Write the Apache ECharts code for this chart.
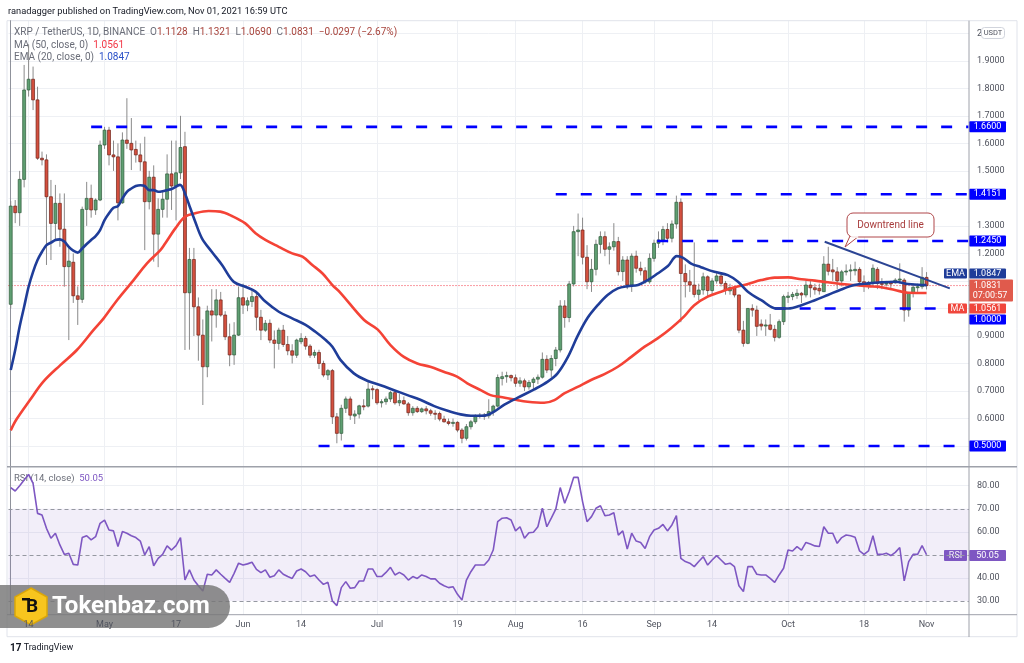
<!DOCTYPE html>
<html>
<head>
<meta charset="utf-8">
<script src="https://cdn.jsdelivr.net/npm/echarts@6/dist/echarts.min.js"></script>
<style>
  html, body { margin: 0; padding: 0; background: #fff; }
  #main { width: 1024px; height: 663px; }
</style>
</head>
<body>
<div id="main"></div>
<script>
// XRP / USDT daily, 2021-04-10 .. 2021-11-01 (day index 0 = Apr 10)
const open = [
  1.015, 1.372, 1.348, 1.469, 1.794, 1.833, 1.758, 1.546, 1.540, 1.406,
  1.309, 1.382, 1.288, 1.152, 1.168, 1.046, 1.033, 1.360, 1.400, 1.358,
  1.394, 1.594, 1.648, 1.558, 1.551, 1.384, 1.612, 1.600, 1.578, 1.558,
  1.533, 1.388, 1.477, 1.270, 1.360, 1.397, 1.489, 1.445, 1.493, 1.588,
  1.057, 1.178, 1.006, 0.903, 0.788, 0.991, 0.976, 1.031, 0.976, 0.897,
  0.831, 0.903, 1.039, 1.012, 1.025, 1.043, 0.968, 0.921, 0.946, 0.885,
  0.873, 0.921, 0.869, 0.846, 0.830, 0.879, 0.891, 0.863, 0.830, 0.840,
  0.800, 0.758, 0.774, 0.606, 0.546, 0.637, 0.671, 0.609, 0.616, 0.646,
  0.645, 0.708, 0.705, 0.657, 0.661, 0.671, 0.694, 0.657, 0.665, 0.653,
  0.621, 0.637, 0.625, 0.635, 0.628, 0.619, 0.618, 0.598, 0.588, 0.582,
  0.586, 0.558, 0.528, 0.570, 0.588, 0.610, 0.612, 0.610, 0.625, 0.645,
  0.745, 0.752, 0.756, 0.748, 0.728, 0.737, 0.715, 0.731, 0.743, 0.750,
  0.815, 0.776, 0.818, 0.849, 1.009, 0.967, 1.089, 1.279, 1.285, 1.186,
  1.097, 1.142, 1.233, 1.261, 1.215, 1.224, 1.243, 1.134, 1.176, 1.085,
  1.190, 1.146, 1.137, 1.097, 1.182, 1.237, 1.249, 1.287, 1.255, 1.307,
  1.386, 1.127, 1.097, 1.085, 1.051, 1.067, 1.115, 1.065, 1.100, 1.118,
  1.091, 1.064, 1.076, 1.049, 0.921, 0.873, 1.000, 0.994, 0.943, 0.936,
  0.940, 0.924, 0.895, 0.952, 1.040, 1.043, 1.047, 1.055, 1.049, 1.085,
  1.075, 1.073, 1.061, 1.161, 1.140, 1.133, 1.100, 1.133, 1.136, 1.137,
  1.142, 1.097, 1.085, 1.093, 1.142, 1.091, 1.089, 1.097, 1.093, 1.103,
  1.103, 0.994, 1.055, 1.077, 1.079, 1.1128
];
const high = [
  1.390, 1.394, 1.500, 1.885, 1.960, 1.879, 1.806, 1.570, 1.560, 1.467,
  1.449, 1.418, 1.418, 1.224, 1.200, 1.080, 1.370, 1.460, 1.450, 1.400,
  1.610, 1.660, 1.660, 1.610, 1.600, 1.640, 1.764, 1.692, 1.610, 1.600,
  1.624, 1.500, 1.520, 1.400, 1.430, 1.560, 1.610, 1.610, 1.700, 1.642,
  1.220, 1.220, 1.040, 0.960, 1.010, 1.070, 1.070, 1.060, 0.990, 0.945,
  0.950, 1.080, 1.090, 1.040, 1.070, 1.060, 0.995, 0.958, 0.960, 0.920,
  0.930, 0.940, 0.900, 0.870, 0.890, 0.910, 0.900, 0.870, 0.850, 0.850,
  0.810, 0.780, 0.780, 0.620, 0.650, 0.680, 0.680, 0.630, 0.650, 0.670,
  0.734, 0.720, 0.710, 0.670, 0.680, 0.700, 0.700, 0.690, 0.680, 0.660,
  0.645, 0.645, 0.640, 0.645, 0.635, 0.630, 0.625, 0.610, 0.600, 0.600,
  0.590, 0.565, 0.580, 0.595, 0.615, 0.620, 0.620, 0.670, 0.650, 0.760,
  0.770, 0.770, 0.760, 0.760, 0.750, 0.745, 0.740, 0.750, 0.760, 0.840,
  0.830, 0.830, 0.860, 1.030, 1.030, 1.100, 1.300, 1.345, 1.330, 1.230,
  1.180, 1.250, 1.280, 1.280, 1.240, 1.310, 1.260, 1.190, 1.190, 1.200,
  1.210, 1.170, 1.150, 1.200, 1.250, 1.280, 1.300, 1.310, 1.320, 1.410,
  1.400, 1.160, 1.140, 1.240, 1.090, 1.130, 1.120, 1.110, 1.130, 1.130,
  1.100, 1.090, 1.080, 1.050, 0.955, 1.000, 1.015, 1.010, 0.960, 0.960,
  0.980, 0.940, 0.960, 1.050, 1.060, 1.060, 1.070, 1.060, 1.100, 1.100,
  1.090, 1.090, 1.190, 1.224, 1.180, 1.150, 1.140, 1.160, 1.160, 1.170,
  1.150, 1.120, 1.100, 1.160, 1.150, 1.110, 1.100, 1.100, 1.110, 1.164,
  1.110, 1.060, 1.090, 1.090, 1.150, 1.1321
];
const low = [
  1.000, 1.310, 1.300, 1.440, 1.770, 1.721, 1.540, 1.520, 1.158, 1.176,
  1.249, 1.224, 1.079, 0.885, 1.020, 0.940, 1.020, 1.300, 1.330, 1.340,
  1.390, 1.580, 1.520, 1.500, 1.320, 1.380, 1.580, 1.503, 1.530, 1.500,
  1.212, 1.360, 1.170, 1.150, 1.330, 1.330, 1.358, 1.320, 1.470, 0.849,
  0.850, 0.900, 0.810, 0.649, 0.750, 0.880, 0.930, 0.970, 0.885, 0.790,
  0.795, 0.900, 0.980, 0.990, 1.005, 0.920, 0.885, 0.915, 0.874, 0.782,
  0.850, 0.860, 0.830, 0.800, 0.820, 0.870, 0.850, 0.820, 0.820, 0.780,
  0.750, 0.740, 0.580, 0.510, 0.520, 0.620, 0.595, 0.580, 0.600, 0.630,
  0.640, 0.670, 0.650, 0.640, 0.650, 0.660, 0.650, 0.645, 0.650, 0.610,
  0.610, 0.620, 0.620, 0.615, 0.610, 0.595, 0.590, 0.585, 0.575, 0.570,
  0.550, 0.510, 0.520, 0.560, 0.580, 0.600, 0.595, 0.600, 0.610, 0.640,
  0.720, 0.730, 0.735, 0.715, 0.715, 0.700, 0.705, 0.700, 0.725, 0.745,
  0.765, 0.750, 0.790, 0.840, 0.930, 0.950, 1.080, 1.190, 1.160, 1.070,
  1.060, 1.120, 1.200, 1.190, 1.160, 1.210, 1.120, 1.100, 1.070, 1.060,
  1.130, 1.120, 1.090, 1.090, 1.170, 1.220, 1.230, 1.240, 1.240, 1.290,
  0.950, 1.040, 1.060, 1.040, 1.030, 1.050, 1.040, 1.050, 1.090, 1.080,
  1.050, 1.050, 1.040, 0.910, 0.861, 0.870, 0.970, 0.900, 0.920, 0.900,
  0.920, 0.880, 0.890, 0.940, 1.020, 1.030, 1.035, 1.020, 1.040, 1.040,
  1.050, 1.050, 1.060, 1.120, 1.100, 1.070, 1.080, 1.120, 1.100, 1.120,
  1.080, 1.060, 1.070, 1.080, 1.070, 1.070, 1.080, 1.070, 1.090, 1.090,
  0.952, 0.970, 1.040, 1.060, 1.070, 1.069
];
const close = [
  1.372, 1.348, 1.469, 1.794, 1.833, 1.758, 1.546, 1.540, 1.406, 1.309,
  1.382, 1.288, 1.152, 1.172, 1.046, 1.033, 1.360, 1.400, 1.358, 1.394,
  1.594, 1.648, 1.558, 1.551, 1.384, 1.612, 1.600, 1.576, 1.558, 1.533,
  1.388, 1.477, 1.270, 1.360, 1.397, 1.489, 1.445, 1.493, 1.585, 1.057,
  1.178, 1.006, 0.903, 0.788, 0.991, 0.976, 1.031, 0.976, 0.897, 0.831,
  0.903, 1.039, 1.012, 1.028, 1.043, 0.968, 0.921, 0.946, 0.885, 0.873,
  0.921, 0.869, 0.846, 0.830, 0.885, 0.891, 0.863, 0.830, 0.840, 0.800,
  0.758, 0.774, 0.606, 0.546, 0.637, 0.671, 0.612, 0.616, 0.646, 0.645,
  0.707, 0.705, 0.657, 0.661, 0.671, 0.694, 0.657, 0.665, 0.653, 0.621,
  0.637, 0.625, 0.635, 0.628, 0.619, 0.618, 0.598, 0.588, 0.582, 0.586,
  0.558, 0.528, 0.570, 0.588, 0.610, 0.612, 0.610, 0.625, 0.645, 0.749,
  0.752, 0.756, 0.748, 0.728, 0.737, 0.715, 0.731, 0.743, 0.750, 0.815,
  0.776, 0.818, 0.849, 1.009, 0.967, 1.089, 1.279, 1.285, 1.186, 1.097,
  1.142, 1.233, 1.261, 1.215, 1.224, 1.243, 1.134, 1.176, 1.085, 1.190,
  1.146, 1.137, 1.097, 1.182, 1.237, 1.249, 1.287, 1.255, 1.307, 1.386,
  1.127, 1.097, 1.085, 1.051, 1.067, 1.115, 1.065, 1.100, 1.118, 1.091,
  1.067, 1.076, 1.049, 0.921, 0.873, 1.000, 0.994, 0.935, 0.936, 0.940,
  0.924, 0.895, 0.952, 1.043, 1.045, 1.051, 1.055, 1.049, 1.085, 1.075,
  1.068, 1.064, 1.161, 1.135, 1.133, 1.100, 1.133, 1.136, 1.140, 1.142,
  1.097, 1.085, 1.093, 1.146, 1.091, 1.089, 1.092, 1.089, 1.103, 1.107,
  0.994, 1.055, 1.077, 1.079, 1.1128, 1.0831
];

// EMA 20 and MA 50 as [day, value]
const emaPoints = [
  [0,0.776],[1,0.849],[2,0.934],[3,1.006],[4,1.079],[5,1.133],[6,1.176],[7,1.206],[8,1.230],[9,1.239],
  [10,1.249],[11,1.251],[12,1.243],[13,1.224],[14,1.210],[15,1.203],[16,1.218],[17,1.234],[18,1.249],[19,1.263],
  [20,1.285],[21,1.321],[22,1.346],[23,1.366],[24,1.372],[25,1.400],[26,1.424],[27,1.436],[28,1.445],[29,1.448],
  [30,1.445],[31,1.430],[32,1.430],[33,1.424],[34,1.426],[35,1.430],[36,1.434],[37.9,1.449],[39,1.418],[40.2,1.364],
  [41.3,1.315],[42.8,1.255],[45,1.206],[47.3,1.158],[49.9,1.097],[52.5,1.079],[54.8,1.061],[57,1.025],[60,0.988],[63,0.964],
  [66,0.940],[68.2,0.915],[70.5,0.885],[72,0.861],[73.8,0.813],[76.8,0.764],[79.8,0.737],[82.8,0.721],[85.8,0.703],[88.8,0.685],
  [91.8,0.667],[94.8,0.645],[97.8,0.628],[100.7,0.615],[103,0.610],[105.2,0.610],[106.7,0.613],[108.2,0.625],[110.5,0.650],[113.4,0.675],
  [117.2,0.706],[120.2,0.734],[122.4,0.764],[124.6,0.820],[126.9,0.900],[129.1,0.965],[131.4,1.012],[133.6,1.049],[135.9,1.073],[138.1,1.081],
  [140.4,1.085],[142.6,1.103],[144.8,1.127],[147.1,1.154],[149.1,1.190],[150.4,1.185],[152.3,1.163],[154.5,1.150],[157.5,1.133],[160.5,1.121],
  [162.8,1.097],[165,1.061],[168,1.030],[171.4,1.000],[174,1.000],[177,1.012],[180,1.030],[182.9,1.049],[185.9,1.069],[188.9,1.085],
  [191.9,1.091],[194.9,1.095],[197.9,1.097],[200.9,1.089],[204,1.085],[205,1.0847]
];
const maPoints = [
  [0,0.557],[1.3,0.597],[4.3,0.667],[7.3,0.734],[11.1,0.794],[14.8,0.849],[18.5,0.921],[20.8,0.964],[23.8,1.030],[27.5,1.103],
  [30.5,1.164],[33.5,1.212],[34.6,1.237],[36.8,1.290],[39,1.333],[41.3,1.346],[44.3,1.354],[46.9,1.352],[49.5,1.336],[52.5,1.309],
  [54.8,1.273],[57,1.249],[60,1.224],[63,1.200],[65.3,1.188],[67.5,1.158],[69.8,1.127],[72,1.085],[73.8,1.057],[79.1,0.958],
  [82.1,0.924],[85,0.867],[88,0.824],[91,0.800],[93.9,0.788],[96.9,0.770],[99.9,0.752],[102.2,0.728],[105.2,0.703],[107.4,0.685],
  [109.7,0.678],[112.7,0.669],[115.7,0.661],[119.4,0.657],[121.7,0.667],[123.9,0.691],[126.9,0.715],[129.9,0.740],[132.9,0.761],[135.9,0.788],
  [138.9,0.824],[141.9,0.861],[144.8,0.891],[147.8,0.928],[150.8,0.972],[153,1.012],[156,1.043],[159,1.061],[162,1.077],[165,1.089],
  [168,1.103],[171,1.112],[174,1.113],[177,1.106],[180,1.101],[182.9,1.095],[185.9,1.089],[188.9,1.085],[191.9,1.081],[194.9,1.077],
  [197.9,1.067],[200.9,1.057],[205,1.0561]
];

// RSI (14), one value per day
const rsi = [
  79.2, 77.7, 80.0, 82.5, 84.9, 81.0, 68.0, 67.3, 61.5, 57.2,
  59.4, 54.3, 50.2, 50.7, 45.9, 45.6, 57.5, 58.3, 56.5, 57.9,
  63.7, 65.1, 60.8, 60.4, 53.6, 60.1, 59.4, 58.3, 57.5, 56.0,
  50.0, 53.6, 45.3, 48.5, 50.2, 53.9, 52.1, 54.0, 57.5, 39.1,
  43.5, 39.1, 36.6, 34.3, 41.6, 41.3, 43.5, 41.6, 39.8, 38.1,
  42.0, 46.4, 45.6, 46.1, 46.8, 43.7, 42.3, 43.5, 40.3, 41.0,
  43.5, 41.6, 40.6, 39.8, 43.0, 43.9, 42.7, 40.6, 41.3, 39.1,
  37.2, 38.1, 30.0, 28.0, 35.8, 38.4, 35.5, 35.8, 38.7, 38.7,
  43.9, 43.9, 40.6, 40.6, 42.4, 44.6, 41.3, 42.4, 41.3, 39.1,
  40.6, 39.8, 41.3, 40.6, 39.6, 39.6, 37.7, 36.6, 35.8, 36.2,
  32.9, 30.4, 39.1, 42.7, 45.6, 45.6, 45.6, 47.8, 52.1, 64.4,
  65.9, 66.1, 65.1, 60.4, 62.2, 57.2, 59.6, 59.8, 62.2, 70.2,
  62.2, 65.9, 69.8, 79.2, 72.4, 77.4, 83.6, 83.6, 73.1, 64.4,
  66.6, 70.2, 71.3, 67.0, 67.3, 68.3, 58.6, 60.4, 52.5, 59.4,
  56.0, 55.4, 52.8, 57.9, 60.8, 61.5, 63.2, 60.4, 63.0, 67.0,
  48.5, 47.1, 46.4, 44.9, 47.1, 49.2, 45.6, 47.8, 49.7, 47.8,
  45.9, 46.4, 44.9, 36.6, 34.1, 44.9, 44.9, 41.6, 41.3, 41.3,
  39.8, 38.1, 41.3, 44.2, 52.1, 51.7, 53.6, 52.1, 55.4, 54.7,
  53.9, 53.6, 62.2, 59.4, 59.4, 55.0, 57.5, 58.6, 58.3, 57.6,
  51.7, 50.2, 51.7, 58.3, 50.2, 50.2, 50.7, 49.7, 51.1, 53.2,
  38.7, 47.1, 50.2, 50.2, 54.0, 50.05
];

// horizontal levels drawn on the chart, with the day each one starts/ends
const levels = [1.66, 1.4151, 1.245, 1.0, 0.5];
const levelFrom = [18, 122, 144.7, 171, 68.9];
const levelTo = [214.4, 214.4, 214.4, 208.4, 214.4];
// downtrend line end points [day, price]
const trendLine = [[182.2, 1.2425], [210.2, 1.073]];

const tickDays = [4, 21, 37, 52, 65, 82, 100, 113, 128, 144, 157, 174, 191, 205];
const tickLabels = ['14', 'May', '17', 'Jun', '14', 'Jul', '19', 'Aug', '16', 'Sep', '14', 'Oct', '18', 'Nov'];
const priceGrid = [0.5, 0.6, 0.7, 0.8, 0.9, 1.0, 1.1, 1.2, 1.3, 1.4, 1.5, 1.6, 1.7, 1.8, 1.9, 2.0];
const priceTicks = [0.6, 0.7, 0.8, 0.9, 1.2, 1.3, 1.5, 1.6, 1.7, 1.8, 1.9];
const rsiGrid = [40, 60, 80];
const rsiTicks = [30, 40, 60, 70, 80];

const FONT = 'Roboto, "Liberation Sans", sans-serif';
const GRID_COLOR = '#eef0f4';
const TXT = '#50535e';
const UP = '#5f9f72', UP_EDGE = '#2f5a3b';
const DOWN = '#d4503f', DOWN_EDGE = '#6e2219';
const WICK = '#8a8a8a';
const EMA_COLOR = '#1f3d99', MA_COLOR = '#f44336', LEVEL_COLOR = '#0000ff';
const RSI_COLOR = '#7e57c2';

const chart = echarts.init(document.getElementById('main'));

const candleRows = open.map((o, i) => [i, o, high[i], low[i], close[i]]);

function renderCandle(params, api) {
  const d = api.value(0);
  const o = api.value(1), h = api.value(2), l = api.value(3), c = api.value(4);
  const pO = api.coord([d, o]);
  const pC = api.coord([d, c]);
  const pH = api.coord([d, h]);
  const pL = api.coord([d, l]);
  const w = api.size([1, 0])[0] * 0.66;
  const up = c >= o;
  const top = Math.min(pO[1], pC[1]);
  const bh = Math.max(Math.abs(pO[1] - pC[1]), 1);
  return {
    type: 'group',
    children: [
      { type: 'line', shape: { x1: pH[0], y1: pH[1], x2: pL[0], y2: pL[1] },
        style: { stroke: WICK, lineWidth: 1 } },
      { type: 'rect', shape: { x: pO[0] - w / 2, y: top, width: w, height: bh },
        style: { fill: up ? UP : DOWN, stroke: up ? UP_EDGE : DOWN_EDGE, lineWidth: 0.7 } }
    ]
  };
}

const xRange = { type: 'value', min: -0.5, max: 214.5 };
const gridLines = { show: true, lineStyle: { color: GRID_COLOR, width: 1 } };

const levelSeries = levels.map((v, i) => ({
  type: 'line', xAxisIndex: 0, yAxisIndex: 0, symbol: 'none', silent: true, z: 3,
  data: [[levelFrom[i], v], [levelTo[i], v]],
  lineStyle: { color: LEVEL_COLOR, width: 2.6, type: [11, 14] }
}));

chart.setOption({
  animation: false,
  backgroundColor: '#ffffff',
  textStyle: { fontFamily: FONT },
  grid: [
    { left: 8.5, right: 55, top: 20.7, height: 446 },
    { left: 8.5, right: 55, top: 466.7, height: 148 }
  ],
  xAxis: [
    Object.assign({ gridIndex: 0, axisLine: { show: false }, axisLabel: { show: false },
      axisTick: { show: false, customValues: tickDays }, splitLine: gridLines }, xRange),
    // date labels, kept above the watermark
    Object.assign({ gridIndex: 1, z: 40, axisLine: { show: false }, splitLine: { show: false },
      axisTick: { show: false },
      axisLabel: {
        customValues: tickDays, color: TXT, fontSize: 9, margin: 6, fontFamily: FONT,
        formatter: v => { const i = tickDays.indexOf(Math.round(v)); return i >= 0 ? tickLabels[i] : ''; }
      } }, xRange),
    // vertical grid of the RSI pane
    Object.assign({ gridIndex: 1, position: 'top', axisLine: { show: false }, axisLabel: { show: false },
      axisTick: { show: false, customValues: tickDays }, splitLine: gridLines }, xRange)
  ],
  yAxis: [
    { gridIndex: 0, type: 'value', position: 'right', min: 0.4248, max: 2.0458,
      axisLine: { show: true, lineStyle: { color: '#8f929b', width: 1 } },
      axisTick: { show: false, customValues: priceGrid },
      axisLabel: { customValues: priceTicks, formatter: v => v.toFixed(4), color: TXT, fontSize: 9, margin: 8, fontFamily: FONT },
      splitLine: gridLines },
    { gridIndex: 1, type: 'value', position: 'right', min: 24.06, max: 88.24,
      axisLine: { show: true, lineStyle: { color: '#8f929b', width: 1 } },
      axisTick: { show: false, customValues: rsiGrid },
      axisLabel: { customValues: rsiTicks, formatter: v => v.toFixed(2), color: TXT, fontSize: 9, margin: 8, fontFamily: FONT },
      splitLine: gridLines }
  ],
  series: [
    {
      type: 'line', xAxisIndex: 0, yAxisIndex: 0, symbol: 'none', silent: true, z: 1,
      data: [[-0.5, close[close.length - 1]], [214.5, close[close.length - 1]]],
      lineStyle: { color: '#f23645', width: 1, type: [1, 2] }
    },
    {
      type: 'custom', name: 'XRP', xAxisIndex: 0, yAxisIndex: 0, z: 2,
      renderItem: renderCandle, data: candleRows,
      encode: { x: 0, y: [1, 2, 3, 4] }
    },
    {
      type: 'line', name: 'MA', xAxisIndex: 0, yAxisIndex: 0, symbol: 'none', smooth: 0.35, z: 4,
      data: maPoints, lineStyle: { color: MA_COLOR, width: 2.6 }
    },
    {
      type: 'line', name: 'EMA', xAxisIndex: 0, yAxisIndex: 0, symbol: 'none', smooth: 0.35, z: 5,
      data: emaPoints, lineStyle: { color: EMA_COLOR, width: 2.6 }
    },
    ...levelSeries,
    {
      type: 'line', xAxisIndex: 0, yAxisIndex: 0, symbol: 'none', silent: true, z: 6,
      data: trendLine, lineStyle: { color: '#2b4494', width: 2 }
    },
    {
      type: 'line', name: 'RSI', xAxisIndex: 1, yAxisIndex: 1, symbol: 'none', z: 5,
      data: rsi.map((v, i) => [i, v]),
      lineStyle: { color: RSI_COLOR, width: 1.6 },
      markArea: { silent: true, itemStyle: { color: 'rgba(126,87,194,0.1)' },
        data: [[{ yAxis: 30 }, { yAxis: 70 }]] },
      markLine: { silent: true, symbol: 'none', label: { show: false },
        lineStyle: { color: '#9598a1', width: 1, type: [4, 3] },
        data: [{ yAxis: 70 }, { yAxis: 50 }, { yAxis: 30 }] }
    }
  ]
});

// ---- overlay: header, frame, price tags, watermark ----
function tag(x, yc, w, h, fill, text, color) {
  return {
    type: 'group', children: [
      { type: 'rect', shape: { x: x, y: yc - h / 2, width: w, height: h, r: 1 }, style: { fill: fill } },
      { type: 'text', x: x + w / 2, y: yc, style: { text: text, fill: color || '#fff', font: '9px ' + FONT, align: 'center', verticalAlign: 'middle' } }
    ]
  };
}
const py = v => chart.convertToPixel({ yAxisIndex: 0 }, v);

const g = [];
// frame
g.push({ type: 'rect', shape: { x: 7, y: 20.7, width: 1010, height: 616 }, style: { fill: 'none', stroke: '#e0e3eb', lineWidth: 1 }, z: 0 });
g.push({ type: 'line', shape: { x1: 7, y1: 466.7, x2: 1017, y2: 466.7 }, style: { stroke: '#9ea1aa', lineWidth: 1.5 }, z: 10 });
g.push({ type: 'line', shape: { x1: 7, y1: 614.7, x2: 1017, y2: 614.7 }, style: { stroke: '#9ea1aa', lineWidth: 1 }, z: 10 });
g.push({ type: 'line', shape: { x1: 969, y1: 20.7, x2: 969, y2: 637 }, style: { stroke: '#9ea1aa', lineWidth: 1 }, z: 10 });

// header
g.push({ type: 'text', x: 8, y: 12, style: { text: 'ranadagger published on TradingView.com, Nov 01, 2021 16:59 UTC', fill: '#131722', font: '9.3px ' + FONT, verticalAlign: 'middle' } });
g.push({ type: 'text', x: 14, y: 32, style: {
  text: '{g|XRP / TetherUS, 1D, BINANCE  O}{r|1.1128}{g|  H}{r|1.1321}{g|  L}{r|1.0690}{g|  C}{r|1.0831}{r|  −0.0297 (−2.67%)}',
  verticalAlign: 'middle',
  rich: { g: { fill: '#6a6d78', font: '10px ' + FONT }, r: { fill: '#a8443c', font: '10px ' + FONT } } } });
g.push({ type: 'text', x: 14, y: 45, style: {
  text: '{g|MA (50, close, 0)  }{r|1.0561}', verticalAlign: 'middle',
  rich: { g: { fill: '#6a6d78', font: '10px ' + FONT }, r: { fill: '#f23645', font: '10px ' + FONT } } } });
g.push({ type: 'text', x: 14, y: 57, style: {
  text: '{g|EMA (20, close, 0)  }{r|1.0847}', verticalAlign: 'middle',
  rich: { g: { fill: '#6a6d78', font: '10px ' + FONT }, r: { fill: '#2a50c8', font: '10px ' + FONT } } } });
g.push({ type: 'text', x: 14, y: 479, style: {
  text: '{g|RSI (14, close)  }{r|50.05}', verticalAlign: 'middle',
  rich: { g: { fill: '#6a6d78', font: '9.5px ' + FONT }, r: { fill: RSI_COLOR, font: '9.5px ' + FONT } } } });

// right axis top "2" with currency tag
g.push({ type: 'text', x: 977, y: 33.3, style: { text: '2', fill: TXT, font: '9px ' + FONT, verticalAlign: 'middle' } });
g.push({ type: 'rect', shape: { x: 981.5, y: 27.5, width: 23, height: 11, r: 3 }, style: { fill: '#fff', stroke: '#d1d4dc', lineWidth: 1 } });
g.push({ type: 'text', x: 993, y: 33.3, style: { text: 'USDT', fill: TXT, font: '7.5px ' + FONT, align: 'center', verticalAlign: 'middle' } });

// level tags
[1.66, 1.4151, 1.245, 0.5].forEach(v => g.push(tag(969, py(v), 37, 11, LEVEL_COLOR, v.toFixed(4))));
g.push(tag(969, 319.5, 37, 10, LEVEL_COLOR, '1.0000'));
g.push(tag(944, 273.5, 23, 10, EMA_COLOR, 'EMA'));
g.push(tag(969, 273.5, 37, 10, EMA_COLOR, '1.0847'));
g.push({ type: 'rect', shape: { x: 969, y: 279.5, width: 44, height: 22, r: 1 }, style: { fill: '#e05a4c' } });
g.push({ type: 'text', x: 987.5, y: 285.3, style: { text: '1.0831', fill: '#fff', font: '9px ' + FONT, align: 'center', verticalAlign: 'middle' } });
g.push({ type: 'text', x: 990, y: 296, style: { text: '07:00:57', fill: '#fff', font: '9px ' + FONT, align: 'center', verticalAlign: 'middle' } });
g.push(tag(948, 308.5, 19, 10, '#f0463c', 'MA'));
g.push(tag(969, 308.5, 37, 10, '#f0463c', '1.0561'));
g.push(tag(944, 555.5, 23, 11, RSI_COLOR, 'RSI'));
g.push(tag(969, 555.5, 37, 11, RSI_COLOR, '50.05'));

// "Downtrend line" callout
g.push({ type: 'polygon', z: 20, shape: { points: [[850, 236], [845, 247], [859, 236]] },
  style: { fill: '#ffffff', stroke: '#b0474a', lineWidth: 1 } });
g.push({ type: 'rect', z: 21, shape: { x: 847, y: 213, width: 87, height: 24, r: 6 },
  style: { fill: '#ffffff', stroke: '#b0474a', lineWidth: 1 } });
g.push({ type: 'line', z: 22, shape: { x1: 850.8, y1: 237, x2: 858.2, y2: 237 },
  style: { stroke: '#ffffff', lineWidth: 1.6 } });
g.push({ type: 'text', z: 23, x: 890.5, y: 225, style: { text: 'Downtrend line', fill: '#a83c3c', font: '10px ' + FONT, align: 'center', verticalAlign: 'middle' } });

// watermark
g.push({ type: 'rect', z: 30, shape: { x: -22, y: 585, width: 252, height: 43, r: 21.5 }, style: { fill: 'rgba(118,118,118,0.82)' } });
g.push({ type: 'polygon', z: 31, shape: { points: [[31, 588], [47, 597], [47, 616], [31, 625], [15, 616], [15, 597]] }, style: { fill: '#f7c51e', stroke: '#d9a60a', lineWidth: 1.5 } });
g.push({ type: 'text', z: 32, x: 32, y: 607, style: { text: 'B', fill: '#111', font: 'bold 19px ' + FONT, align: 'center', verticalAlign: 'middle' } });
g.push({ type: 'rect', z: 32, shape: { x: 22, y: 598, width: 8, height: 2.5 }, style: { fill: '#111' } });
g.push({ type: 'text', z: 32, x: 52, y: 607, style: { text: 'Tokenbaz.com', fill: '#ffffff', font: 'bold 24px ' + FONT, verticalAlign: 'middle' } });

// TradingView footer
g.push({ type: 'text', x: 10, y: 648, style: { text: '{b|17}{t| TradingView}', verticalAlign: 'middle',
  rich: { b: { fill: '#131722', font: 'bold 10px ' + FONT }, t: { fill: '#131722', font: '9px ' + FONT } } } });

chart.setOption({ graphic: g });
</script>
</body>
</html>
